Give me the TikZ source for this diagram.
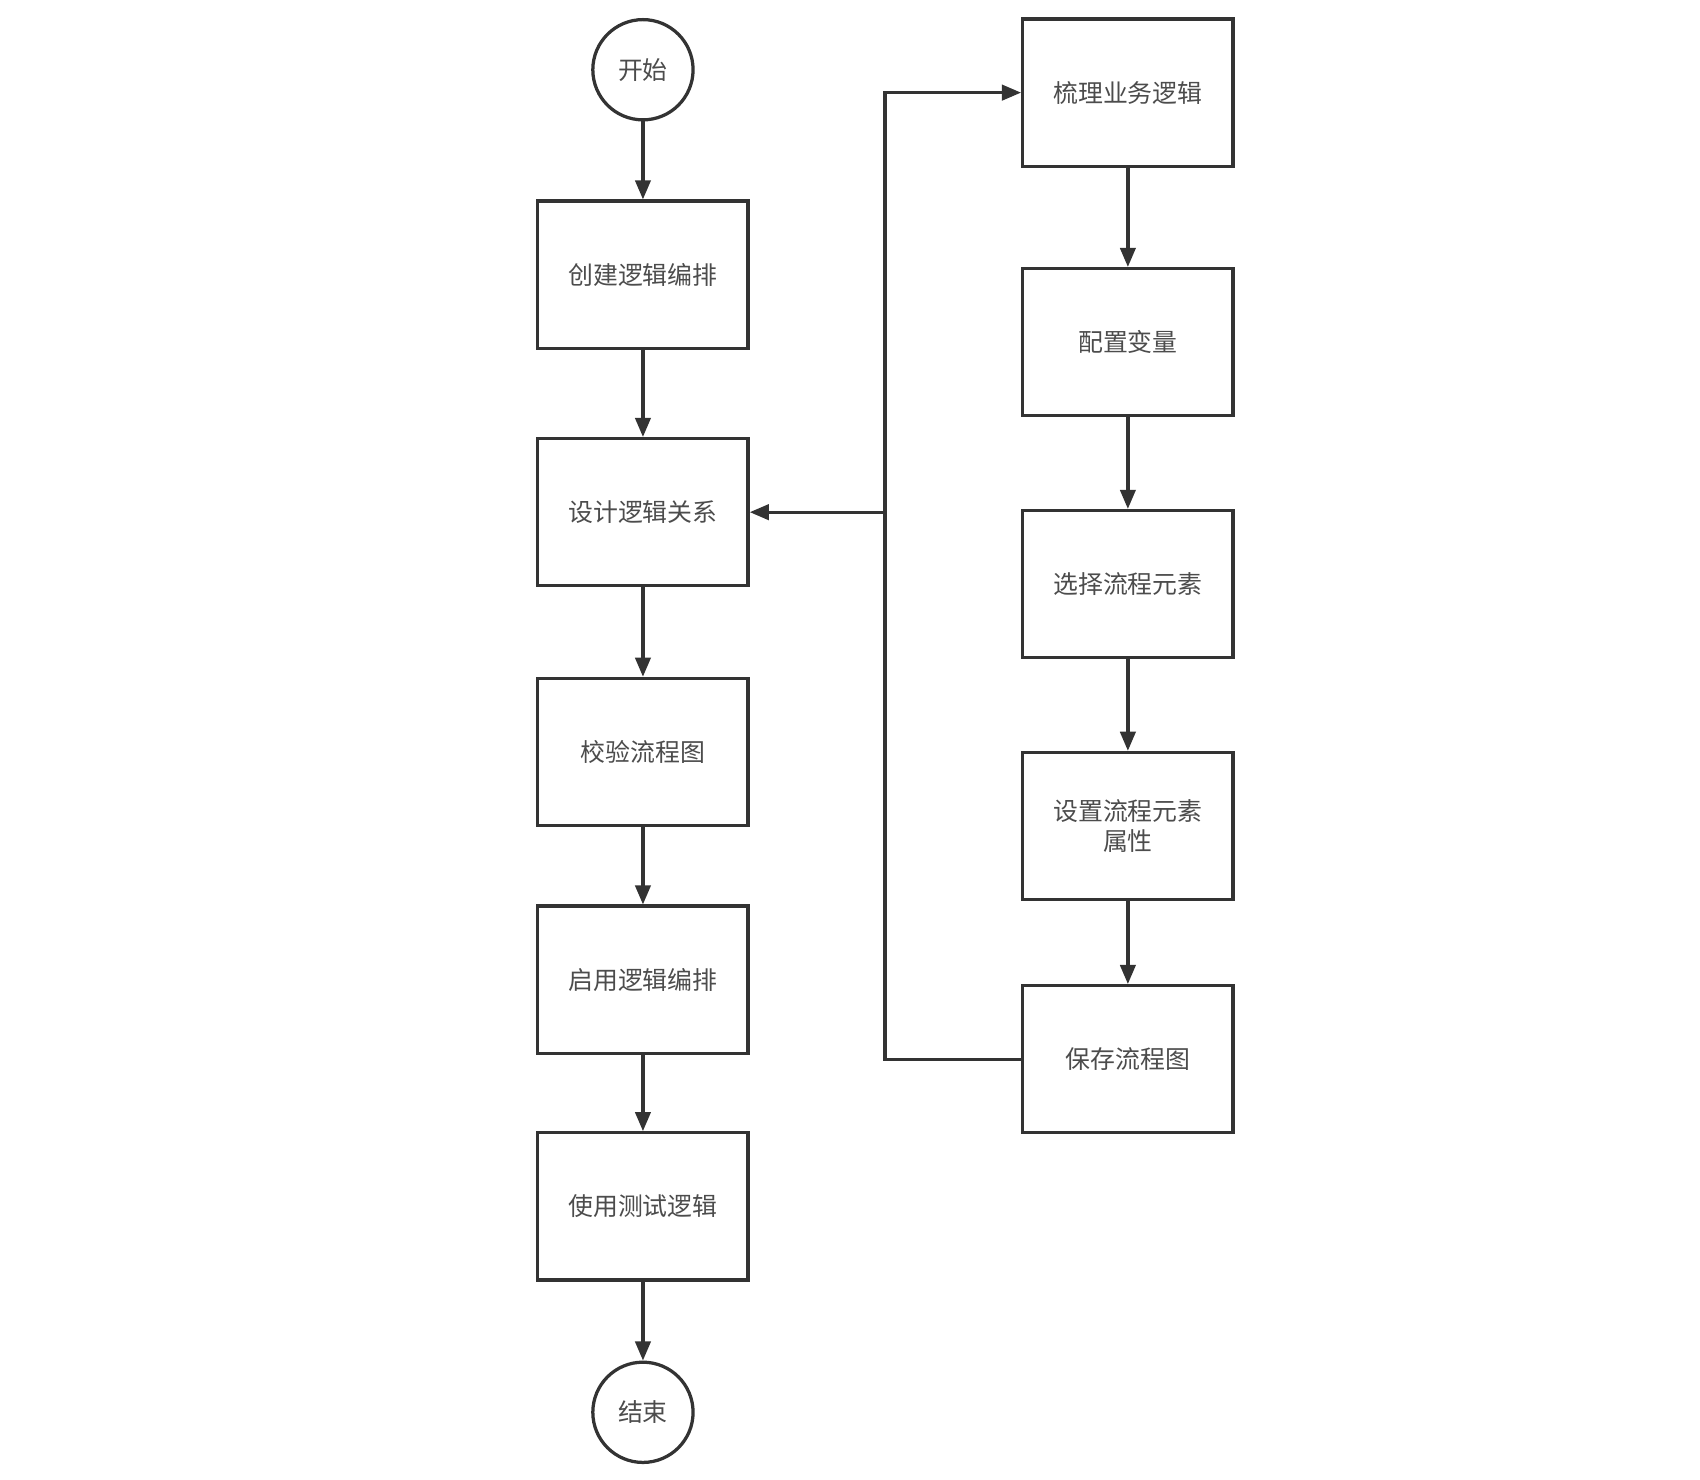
\documentclass[tikz,border=0pt]{standalone}
\usepackage{fontspec}
\newfontfamily\cjk{Noto Sans CJK SC}
\usetikzlibrary{arrows.meta}
\begin{document}
\begin{tikzpicture}[x=0.02cm,y=-0.02cm,
  box/.style={draw=black!80,line width=1.7pt,minimum width=193*0.02cm,minimum height=135*0.02cm,inner sep=0pt,font=\cjk\fontsize{13}{16}\selectfont,text=black!70,align=center},
  term/.style={draw=black!80,line width=1.7pt,circle,minimum size=92*0.02cm,inner sep=0pt,font=\cjk\fontsize{13}{16}\selectfont,text=black!70},
  arr/.style={draw=black!80,line width=1.7pt,-{Triangle[length=10pt,width=8pt]}}]
\useasboundingbox (0,0) rectangle (1560,1358);
\node[term] (s) at (590,64) {开始};
\node[box] (a1) at (590,252) {创建逻辑编排};
\node[box] (a2) at (590,470) {设计逻辑关系};
\node[box] (a3) at (590,690) {校验流程图};
\node[box] (a4) at (590,899) {启用逻辑编排};
\node[box] (a5) at (590,1107) {使用测试逻辑};
\node[term] (e) at (590,1296) {结束};
\node[box] (b1) at (1035,85) {梳理业务逻辑};
\node[box] (b2) at (1035,314) {配置变量};
\node[box] (b3) at (1035,536) {选择流程元素};
\node[box] (b4) at (1035,758) {设置流程元素\\属性};
\node[box] (b5) at (1035,972) {保存流程图};
\draw[arr] (s) -- (a1);
\draw[arr] (a1) -- (a2);
\draw[arr] (a2) -- (a3);
\draw[arr] (a3) -- (a4);
\draw[arr] (a4) -- (a5);
\draw[arr] (a5) -- (e);
\draw[arr] (b1) -- (b2);
\draw[arr] (b2) -- (b3);
\draw[arr] (b3) -- (b4);
\draw[arr] (b4) -- (b5);
\coordinate (j) at (812,470);
\draw[arr] (b5.west) -| (812,85) -- (b1.west);
\draw[arr] (j) -- (a2.east);
\end{tikzpicture}
\end{document}
